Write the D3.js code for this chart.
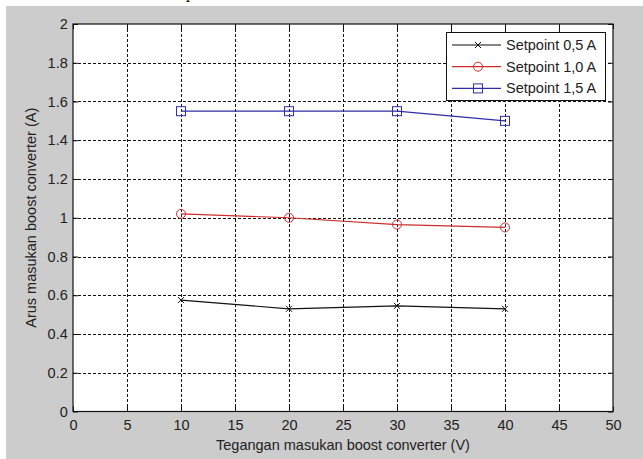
<!DOCTYPE html>
<html>
<head>
<meta charset="utf-8">
<script src="https://cdn.jsdelivr.net/npm/d3@7"></script>
<style>
  html, body { margin: 0; padding: 0; background: #ffffff; }
  svg { display: block; }
  text { font-family: "Liberation Sans", Arial, sans-serif; fill: #222; }
</style>
</head>
<body>
<svg id="chart" width="643" height="459"></svg>
<script>
// Input voltage (V) at each measurement
const voltages = [10, 20, 30, 40];

// Measured input current (A) for each setpoint
const setpoint05 = [0.575, 0.53, 0.545, 0.53];
const setpoint10 = [1.02, 1.0, 0.965, 0.95];
const setpoint15 = [1.55, 1.55, 1.55, 1.5];

const seriesNames = ["Setpoint 0,5 A", "Setpoint 1,0 A", "Setpoint 1,5 A"];
const seriesValues = [setpoint05, setpoint10, setpoint15];
const seriesColors = ["#111111", "#cc2e2e", "#2e2ea6"];
const seriesMarkers = ["x", "circle", "square"];

const xTicks = [0, 5, 10, 15, 20, 25, 30, 35, 40, 45, 50];
const yTicks = [0, 0.2, 0.4, 0.6, 0.8, 1, 1.2, 1.4, 1.6, 1.8, 2];

const xLabel = "Tegangan masukan boost converter (V)";
const yLabel = "Arus masukan boost converter (A)";

const W = 643, H = 459;
const plot = { left: 73, right: 613, top: 24, bottom: 411.5 };

const svg = d3.select("#chart");

// figure background
svg.append("rect").attr("x", 6).attr("y", 6).attr("width", W - 6).attr("height", H - 6)
  .attr("fill", "#cccccc");

// descender of the caption line above the figure
svg.append("text").attr("x", 186).attr("y", -2)
  .style("font-family", "'Liberation Serif', 'Times New Roman', serif")
  .style("font-size", "16px").style("fill", "#000").text("p");

const x = d3.scaleLinear().domain([0, 50]).range([plot.left, plot.right]);
const y = d3.scaleLinear().domain([0, 2]).range([plot.bottom, plot.top]);

// axes area
svg.append("rect").attr("x", plot.left).attr("y", plot.top)
  .attr("width", plot.right - plot.left).attr("height", plot.bottom - plot.top)
  .attr("fill", "#ffffff");

const grid = svg.append("g").attr("stroke", "#111").attr("stroke-width", 1)
  .attr("stroke-dasharray", "3,2").attr("shape-rendering", "crispEdges");
grid.selectAll("line.vx").data(xTicks.slice(1, -1)).join("line")
  .attr("x1", d => Math.round(x(d)) + 0.5).attr("x2", d => Math.round(x(d)) + 0.5)
  .attr("y1", plot.top).attr("y2", plot.bottom);
grid.selectAll("line.hy").data(yTicks.slice(1, -1)).join("line")
  .attr("y1", d => Math.round(y(d)) + 0.5).attr("y2", d => Math.round(y(d)) + 0.5)
  .attr("x1", plot.left).attr("x2", plot.right);

// axes with inward ticks on all four sides
const tickLen = 5;
const fmt = d => String(d);
const axB = svg.append("g").attr("transform", `translate(0,${plot.bottom})`)
  .call(d3.axisBottom(x).tickValues(xTicks).tickSize(-tickLen).tickPadding(8).tickFormat(fmt));
const axT = svg.append("g").attr("transform", `translate(0,${plot.top})`)
  .call(d3.axisTop(x).tickValues(xTicks).tickSize(-tickLen).tickFormat(""));
const axL = svg.append("g").attr("transform", `translate(${plot.left},0)`)
  .call(d3.axisLeft(y).tickValues(yTicks).tickSize(-tickLen).tickPadding(6).tickFormat(fmt));
const axR = svg.append("g").attr("transform", `translate(${plot.right},0)`)
  .call(d3.axisRight(y).tickValues(yTicks).tickSize(-tickLen).tickFormat(""));
[axB, axT, axL, axR].forEach(a => {
  a.select(".domain").remove();
  a.selectAll("line").attr("stroke", "#111");
  a.selectAll("text").style("font-size", "14.5px").style("fill", "#222")
    .style("font-family", "'Liberation Sans', Arial, sans-serif");
});
axL.selectAll("text").attr("dx", "0.05em");

svg.append("rect").attr("x", plot.left).attr("y", plot.top)
  .attr("width", plot.right - plot.left).attr("height", plot.bottom - plot.top)
  .attr("fill", "none").attr("stroke", "#111").attr("stroke-width", 1.2);

// axis titles
svg.append("text").attr("x", (plot.left + plot.right) / 2).attr("y", 450)
  .attr("text-anchor", "middle").style("font-size", "14.5px").text(xLabel);
svg.append("text")
  .attr("transform", `translate(36,${(plot.top + plot.bottom) / 2}) rotate(-90)`)
  .attr("text-anchor", "middle").style("font-size", "14.5px").text(yLabel);

function drawMarker(g, type, cx, cy, color) {
  if (type === "x") {
    const s = 3;
    g.append("path").attr("d", `M${cx - s},${cy - s}L${cx + s},${cy + s}M${cx - s},${cy + s}L${cx + s},${cy - s}`)
      .attr("stroke", color).attr("stroke-width", 1).attr("fill", "none");
  } else if (type === "circle") {
    g.append("circle").attr("cx", cx).attr("cy", cy).attr("r", 4.5)
      .attr("stroke", color).attr("stroke-width", 1).attr("fill", "none");
  } else {
    g.append("rect").attr("x", cx - 4.5).attr("y", cy - 4.5).attr("width", 9).attr("height", 9)
      .attr("stroke", color).attr("stroke-width", 1).attr("fill", "none");
  }
}

const line = d3.line().x(d => x(d[0])).y(d => y(d[1]));
seriesValues.forEach((vals, i) => {
  const pts = voltages.map((v, j) => [v, vals[j]]);
  const g = svg.append("g");
  g.append("path").attr("d", line(pts)).attr("fill", "none")
    .attr("stroke", seriesColors[i]).attr("stroke-width", 1.2);
  pts.forEach(p => drawMarker(g, seriesMarkers[i], x(p[0]), y(p[1]), seriesColors[i]));
});

// legend
const lg = svg.append("g");
lg.append("rect").attr("x", 446.5).attr("y", 32.5).attr("width", 159).attr("height", 68)
  .attr("fill", "#ffffff").attr("stroke", "#111").attr("stroke-width", 1);
seriesNames.forEach((name, i) => {
  const cy = 45 + i * 21.7;
  lg.append("line").attr("x1", 452).attr("x2", 501).attr("y1", cy).attr("y2", cy)
    .attr("stroke", seriesColors[i]).attr("stroke-width", 1.2);
  drawMarker(lg, seriesMarkers[i], 478, cy, seriesColors[i]);
  lg.append("text").attr("x", 506).attr("y", cy + 5).style("font-size", "14.5px").text(name);
});
</script>
</body>
</html>
